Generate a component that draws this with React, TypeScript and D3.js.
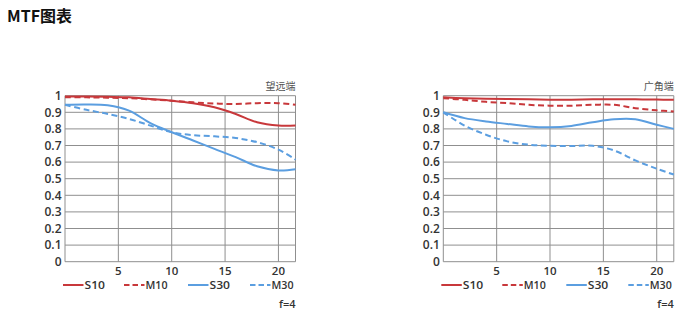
import React from "react";
import * as d3 from "d3";

const fieldPos = [0, 2, 4, 6, 8, 10, 12, 14, 16, 18, 20, 21.6];

const teleS10 = [0.995, 0.995, 0.993, 0.99, 0.98, 0.97, 0.955, 0.93, 0.89, 0.84, 0.82, 0.82];
const teleM10 = [0.99, 0.99, 0.988, 0.985, 0.978, 0.97, 0.96, 0.953, 0.95, 0.955, 0.955, 0.945];
const teleS30 = [0.945, 0.947, 0.942, 0.91, 0.835, 0.78, 0.73, 0.68, 0.63, 0.575, 0.55, 0.557];
const teleM30 = [0.945, 0.915, 0.89, 0.86, 0.82, 0.78, 0.762, 0.755, 0.745, 0.72, 0.675, 0.615];

const wideS10 = [0.99, 0.985, 0.982, 0.98, 0.978, 0.976, 0.976, 0.978, 0.978, 0.978, 0.977, 0.975];
const wideM10 = [0.985, 0.975, 0.963, 0.955, 0.945, 0.94, 0.94, 0.945, 0.945, 0.925, 0.912, 0.905];
const wideS30 = [0.9, 0.865, 0.845, 0.83, 0.815, 0.81, 0.818, 0.84, 0.858, 0.858, 0.825, 0.8];
const wideM30 = [0.9, 0.82, 0.765, 0.725, 0.705, 0.698, 0.697, 0.698, 0.67, 0.61, 0.56, 0.525];

const seriesNames = ["S10", "M10", "S30", "M30"];
const xTicks = [5, 10, 15, 20];
const yTicks = [0, 0.1, 0.2, 0.3, 0.4, 0.5, 0.6, 0.7, 0.8, 0.9, 1];
const title = "MTF图表";
const apertureLabel = "f=4";

const RED = "#c8383b";
const BLUE = "#5b9ee0";
const GRID = "#8f8f8f";

type Props = {
  left: number;
  label: string;
  data: number[][];
};

function Chart({ left, label, data }: Props) {
  const top = 95.7;
  const bottom = 261.7;
  const width = 230.5;
  const x = d3.scaleLinear().domain([0, 21.6]).range([left, left + width]);
  const y = d3.scaleLinear().domain([0, 1]).range([bottom, top]);
  const line = d3
    .line<[number, number]>()
    .x((d) => x(d[0]))
    .y((d) => y(d[1]))
    .curve(d3.curveCatmullRom.alpha(0.5));
  const styles = [
    { color: RED, dash: undefined },
    { color: RED, dash: "6,3.5" },
    { color: BLUE, dash: undefined },
    { color: BLUE, dash: "6,3.5" },
  ];
  const legendX = [0, 61, 125, 187];
  const font = "'Open Sans', 'Noto Sans', sans-serif";
  return (
    <g>
      {yTicks.map((t) => (
        <line key={"h" + t} x1={x(0)} x2={x(21.6)} y1={y(t)} y2={y(t)} stroke={GRID} strokeWidth={1} />
      ))}
      {xTicks.map((t) => (
        <line key={"v" + t} x1={x(t)} x2={x(t)} y1={y(0)} y2={y(1)} stroke={GRID} strokeWidth={1} />
      ))}
      <line x1={x(0)} x2={x(0)} y1={y(0)} y2={y(1)} stroke={GRID} strokeWidth={1} />
      <line x1={x(21.6)} x2={x(21.6)} y1={y(0)} y2={y(1)} stroke={GRID} strokeWidth={1} />
      {yTicks.map((t) => (
        <text
          key={"yl" + t}
          x={x(0) - 3.5}
          y={y(t) + 4.2}
          textAnchor="end"
          fontFamily={font}
          fontWeight={600}
          fontSize={12}
          fill="#333"
        >
          {d3.format("~g")(t)}
        </text>
      ))}
      {xTicks.map((t) => (
        <text
          key={"xl" + t}
          x={x(t)}
          y={275}
          textAnchor="middle"
          fontFamily={font}
          fontWeight={600}
          fontSize={11.5}
          fill="#333"
        >
          {t}
        </text>
      ))}
      {data.map((vals, i) => (
        <path
          key={"s" + i}
          d={line(fieldPos.map((f, j) => [f, vals[j]] as [number, number])) || ""}
          fill="none"
          stroke={styles[i].color}
          strokeWidth={2}
          strokeDasharray={styles[i].dash}
        />
      ))}
      <text
        x={x(21.6)}
        y={90}
        textAnchor="end"
        fontFamily="'Noto Sans CJK SC', sans-serif"
        fontSize={10}
        fill="#555"
      >
        {label}
      </text>
      {seriesNames.map((n, i) => (
        <g key={"lg" + n} transform={`translate(${left - 2 + legendX[i]},285)`}>
          <line x1={0} x2={20.5} y1={0} y2={0} stroke={styles[i].color} strokeWidth={2} strokeDasharray={styles[i].dash ? "5.5,3" : undefined} />
          <text x={21.5} y={4.3} fontFamily={font} fontWeight={600} fontSize={11.5} fill="#333" textLength={i % 2 === 1 ? 22 : 20.5} lengthAdjust="spacingAndGlyphs">
            {n}
          </text>
        </g>
      ))}
      <text
        x={x(21.6)}
        y={308.3}
        textAnchor="end"
        fontFamily={font}
        fontWeight={600}
        fontSize={11}
        fill="#333"
      >
        {apertureLabel}
      </text>
    </g>
  );
}

export default function App() {
  return (
    <svg
      width={700}
      height={327}
      style={{ position: "absolute", left: 0, top: 0, background: "#fff" }}
    >
      <text
        x={7}
        y={21.5}
        fontFamily="'Noto Sans CJK SC', 'Noto Sans', sans-serif"
        fontWeight={700}
        fontSize={16}
        fill="#111"
      >
        {title}
      </text>
      <Chart left={65} label="望远端" data={[teleS10, teleM10, teleS30, teleM30]} />
      <Chart left={443.3} label="广角端" data={[wideS10, wideM10, wideS30, wideM30]} />
    </svg>
  );
}
